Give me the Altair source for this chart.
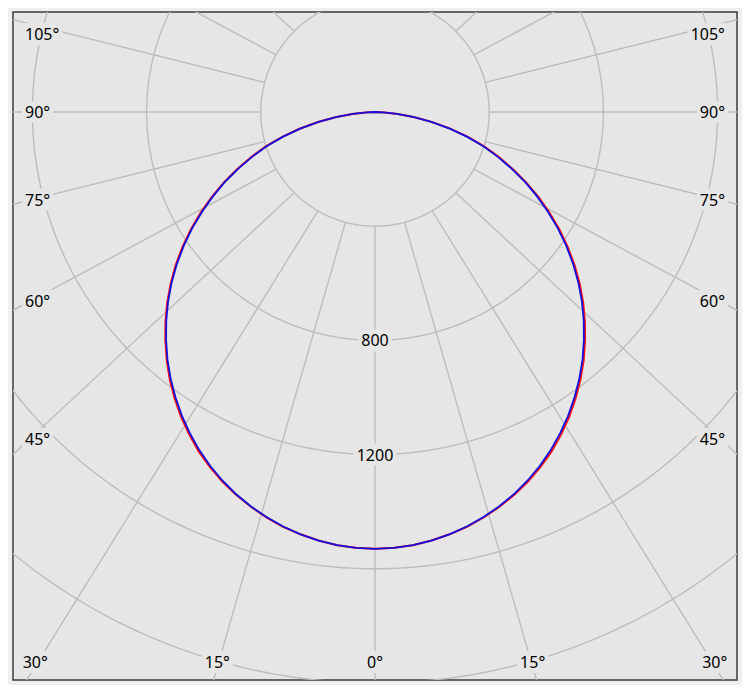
import altair as alt
import numpy as np
import pandas as pd

# ---- data ----
gamma = [0, 2.5, 5, 7.5, 10, 12.5, 15, 17.5, 20, 22.5, 25, 27.5, 30, 32.5, 35, 37.5, 40, 42.5, 45,
         47.5, 50, 52.5, 55, 57.5, 60, 62.5, 65, 67.5, 70, 72.5, 75, 77.5, 80, 82.5, 85, 87.5, 90]
c0 = [1530, 1528, 1523, 1514, 1502, 1488, 1470, 1450, 1427, 1401, 1372, 1340, 1304, 1266, 1225, 1182, 1137, 1089, 1040,
      989, 936, 881, 824, 766, 706, 646, 584, 522, 462, 402, 337, 272, 204, 140, 80, 31, 0]
c180 = [1530, 1528, 1523, 1514, 1502, 1488, 1470, 1449, 1426, 1400, 1371, 1339, 1303, 1265, 1224, 1181, 1135, 1087, 1038,
        987, 934, 880, 823, 765, 705, 645, 584, 522, 461, 401, 336, 271, 203, 140, 80, 31, 0]
c90 = [1530, 1528, 1523, 1514, 1502, 1487, 1469, 1448, 1424, 1397, 1367, 1334, 1298, 1260, 1219, 1176, 1131, 1083, 1034,
       983, 930, 875, 818, 760, 700, 640, 580, 518, 457, 398, 333, 268, 200, 138, 78, 30, 0]
c270 = [1530, 1528, 1523, 1514, 1502, 1487, 1469, 1448, 1424, 1397, 1367, 1334, 1298, 1260, 1219, 1176, 1131, 1083, 1034,
        983, 930, 875, 818, 760, 700, 640, 580, 518, 457, 398, 333, 268, 200, 138, 78, 30, 0]

circle_values = [400, 800, 1200, 1600, 2000, 2400]
ray_angles = list(range(-180, 181, 15))
angle_labels = [-105, -90, -75, -60, -45, -30, -15, 0, 15, 30, 45, 60, 75, 90, 105]
value_labels = [800, 1200]

# ---- layout ----
PX = 0.2855            # pixels per cd
W, H = 724, 668
CX, CY = 362, 100      # pole position inside the plot (px)
XMIN, XMAX = -CX / PX, (W - CX) / PX
YTOP, YBOT = -CY / PX, (H - CY) / PX
K = 1.07
K_SIDE = 1.04
BG = "#e6e6e6"
GRID = "#bdbdbd"
FONT = "Noto Sans"
FS = 16

xs = alt.Scale(domain=[XMIN, XMAX], nice=False, zero=False)
ys = alt.Scale(domain=[YTOP, YBOT], nice=False, zero=False, reverse=True)
X = lambda f="x": alt.X(f"{f}:Q", scale=xs, axis=None)
Y = lambda f="y": alt.Y(f"{f}:Q", scale=ys, axis=None)

# circles
rows = []
t = np.radians(np.arange(0, 361, 1))
for r in circle_values:
    for i, a in enumerate(t):
        rows.append({"r": r, "i": i, "x": r * np.sin(a), "y": r * np.cos(a)})
circ = pd.DataFrame(rows)

# rays
rows = []
R0, R1 = circle_values[0], 6000
for a in ray_angles:
    ar = np.radians(a)
    rows.append({"a": a, "i": 0, "x": R0 * np.sin(ar), "y": R0 * np.cos(ar)})
    rows.append({"a": a, "i": 1, "x": K * R1 * np.sin(ar), "y": R1 * np.cos(ar)})
rays = pd.DataFrame(rows)

# curves
def curve(right, left, name):
    out = []
    n = 0
    for g, v in zip(gamma[::-1], left[::-1]):
        a = np.radians(-g)
        out.append({"s": name, "i": n, "x": v * np.sin(a), "y": v * np.cos(a)}); n += 1
    for g, v in zip(gamma[1:], right[1:]):
        a = np.radians(g)
        out.append({"s": name, "i": n, "x": v * np.sin(a), "y": v * np.cos(a)}); n += 1
    return pd.DataFrame(out)

red = curve(c0, c180, "C0-C180")
blue = curve(c90, c270, "C90-C270")

# labels
def text_w(s):
    return sum(9.15 if ch.isdigit() else 6.9 for ch in s)

def box_shape(w, h=22, size=40):
    s = size / 2
    a, b = (w / 2 + 3) / s, (h / 2) / s
    return f"M{-a},{-b}H{a}V{b}H{-a}Z"

rows = []
SIDE, BOTTOM, TOPLIM = 340, 550, -78
for a in angle_labels:
    lab = f"{abs(a)}°"
    w = text_w(lab)
    ar = np.radians(a)
    if abs(a) <= 30:
        py = BOTTOM
        px = BOTTOM * K * np.tan(ar)
    else:
        sgn = 1 if a > 0 else -1
        py = max(SIDE * np.cos(ar) / (K_SIDE * abs(np.sin(ar))), TOPLIM)
        px = sgn * (SIDE + 10 - w / 2)
    rows.append({"t": lab, "x": px / PX, "y": py / PX, "shape": box_shape(w)})
for v in value_labels:
    lab = str(v)
    rows.append({"t": lab, "x": 0.0, "y": float(v), "shape": box_shape(text_w(lab))})
labs = pd.DataFrame(rows)

circles = alt.Chart(circ).mark_line(clip=True, color=GRID, strokeWidth=1.4).encode(
    x=X(), y=Y(), detail="r:N", order="i:Q")
raylines = alt.Chart(rays).mark_line(clip=True, color=GRID, strokeWidth=1.4).encode(
    x=X(), y=Y(), detail="a:N", order="i:Q")
boxes = alt.Chart(labs).mark_point(filled=True, fill=BG, stroke=None, opacity=1, size=1600).encode(
    x=X(), y=Y(), shape=alt.Shape("shape:N", scale=None))
texts = alt.Chart(labs).mark_text(font=FONT, fontSize=FS, color="#000000", baseline="middle", align="center", dy=1).encode(
    x=X(), y=Y(), text="t:N")
red_l = alt.Chart(red).mark_line(clip=True, color="#ff1010", strokeWidth=2).encode(
    x=X(), y=Y(), order="i:Q")
blue_l = alt.Chart(blue).mark_line(clip=True, color="#1010e0", strokeWidth=1.8).encode(
    x=X(), y=Y(), order="i:Q")

chart = alt.layer(circles, raylines, boxes, texts, red_l, blue_l).properties(
    width=W, height=H,
    padding={"left": 5, "top": 4, "right": 5, "bottom": 5},
    autosize=alt.AutoSizeParams(type="none"),
    background="#efefef",
).configure_view(fill=BG, stroke="#3c3c3c", strokeWidth=1.5)

chart.save("out.html", embed_options={"renderer": "svg", "actions": False})
